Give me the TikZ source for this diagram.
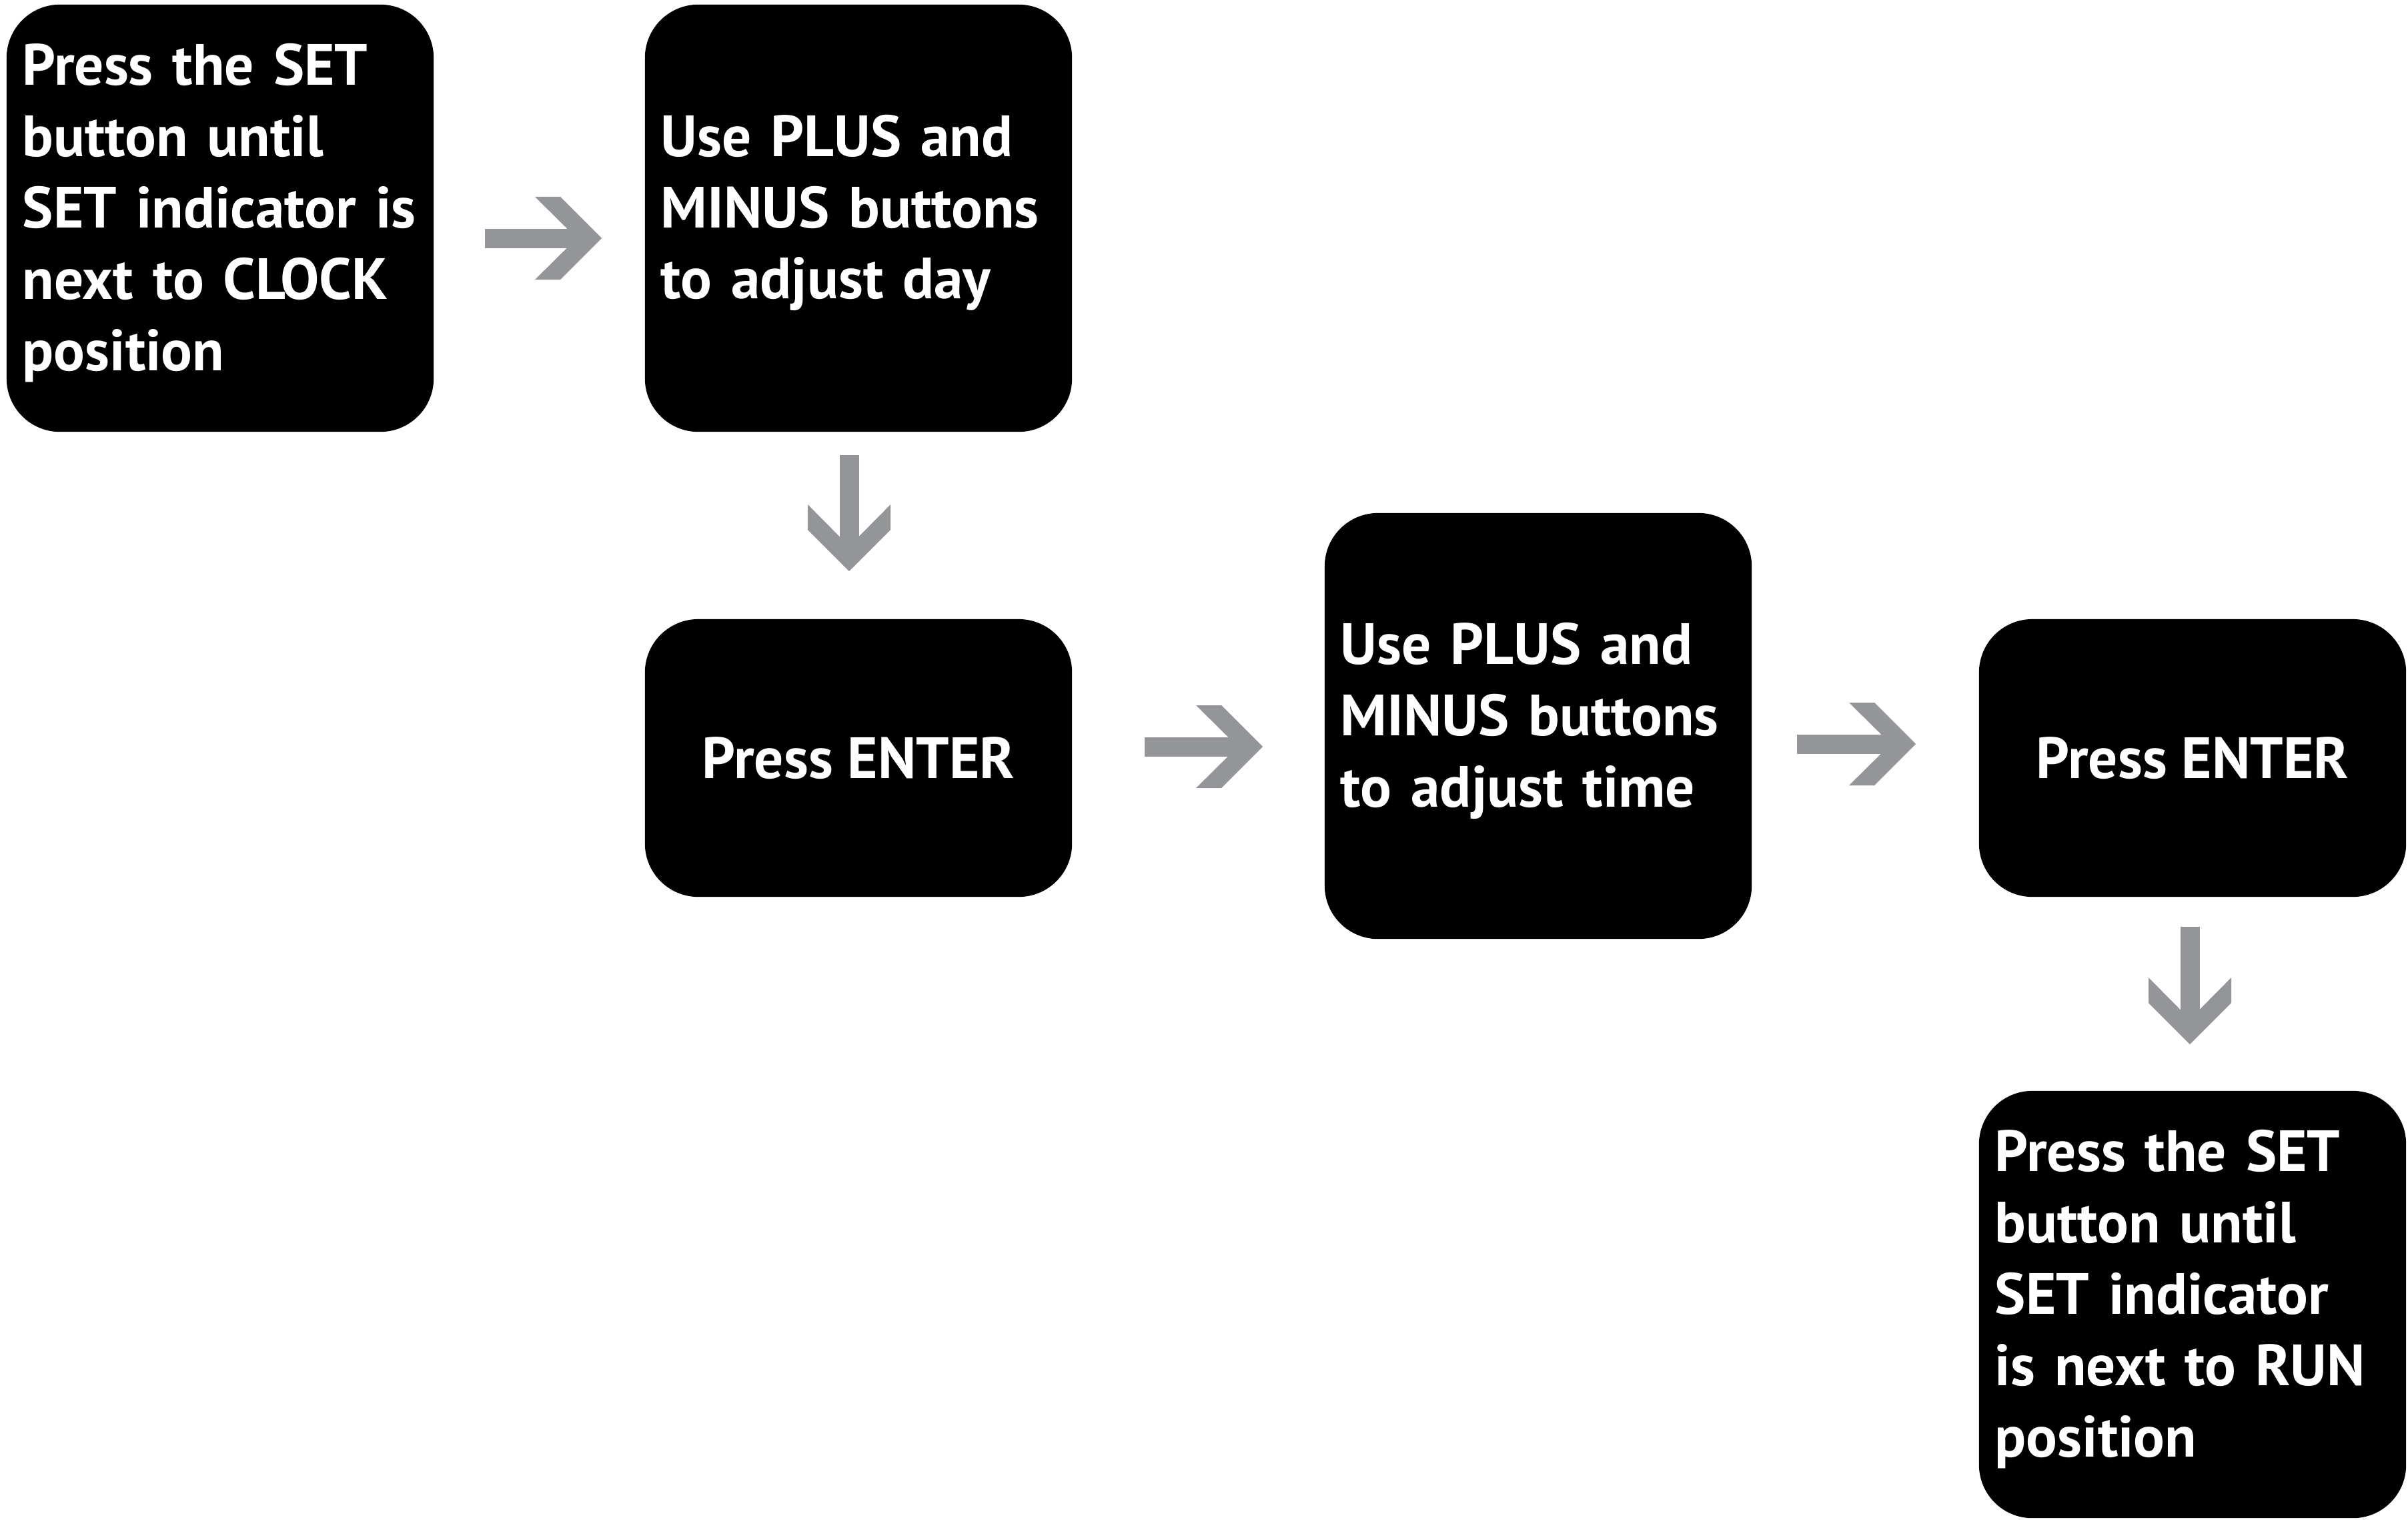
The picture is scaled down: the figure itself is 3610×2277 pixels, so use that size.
\documentclass[tikz,border=0pt]{standalone}
\usepackage{fontspec}
\setmainfont{PT Sans}
\usetikzlibrary{arrows.meta}

\definecolor{arrowgray}{RGB}{147,149,152}
\newcommand{\cardfont}{\bfseries\fontsize{24.8pt}{30.4pt}\selectfont}

% gray block arrow head
\pgfdeclarearrow{
  name=Chevron,
  setup code={
    \pgfarrowssettipend{0pt}
    \pgfarrowssetbackend{-1cm}
    \pgfarrowssetlineend{-.4cm}
    \pgfarrowshullpoint{0pt}{0pt}
    \pgfarrowsupperhullpoint{-1cm}{.62cm}
  },
  drawing code={
    \pgfpathmoveto{\pgfpointorigin}
    \pgfpathlineto{\pgfpoint{-.62cm}{.62cm}}
    \pgfpathlineto{\pgfpoint{-1cm}{.62cm}}
    \pgfpathlineto{\pgfpoint{-.52cm}{.145cm}}
    \pgfpathlineto{\pgfpoint{-.52cm}{-.145cm}}
    \pgfpathlineto{\pgfpoint{-1cm}{-.62cm}}
    \pgfpathlineto{\pgfpoint{-.62cm}{-.62cm}}
    \pgfpathclose
    \pgfusepathqfill
  }
}

\tikzset{
  card/.style={fill=black, text=white, rounded corners=.8cm,
    minimum width=6.4cm, minimum height=6.4cm, inner xsep=.24cm,
    text width=5.92cm, align=left, font=\cardfont,
    execute at end node={\par\vspace*{.16cm}}},
  flatcard/.style={fill=black, text=white, rounded corners=.8cm,
    minimum width=6.4cm, minimum height=4.16cm, align=center, font=\cardfont},
  flow/.style={color=arrowgray, line width=.29cm, -Chevron}
}

\begin{document}
\begin{tikzpicture}[x=0.01cm, y=-0.01cm]
  \useasboundingbox (0,0) rectangle (3610,2277);
  \path
    (330,327) node[card] (1) {Press the SET\\button until\\SET indicator is\\next to CLOCK\\position}
    (1287,327) node[card] (2) {Use PLUS and\\MINUS buttons\\to adjust day}
    (1287,1136) node[flatcard] (3) {Press ENTER}
    (2306,1088) node[card, minimum height=6.38cm] (4) {Use PLUS and\\MINUS buttons\\to adjust time}
    (3287,1136) node[flatcard] (5) {Press ENTER}
    (3287,1955) node[card] (6) {Press the SET\\button until\\SET indicator\\is next to RUN\\position};
  \begin{scope}
    \draw[flow, shorten <=.76cm, shorten >=.64cm] (1.east |- 0,357) to (2.west |- 0,357);
    \draw[flow, shorten <=.34cm, shorten >=.71cm] (2.south -| 1273,0) to (3.north -| 1273,0);
    \draw[flow, shorten <=1.08cm, shorten >=.92cm] (3.east |- 0,1119) to (4.west |- 0,1119);
    \draw[flow, shorten <=.67cm, shorten >=.94cm] (4.east |- 0,1115) to (5.west |- 0,1115);
    \draw[flow, shorten <=.44cm, shorten >=.69cm] (5.south -| 3283,0) to (6.north -| 3283,0);
  \end{scope}
\end{tikzpicture}
\end{document}
